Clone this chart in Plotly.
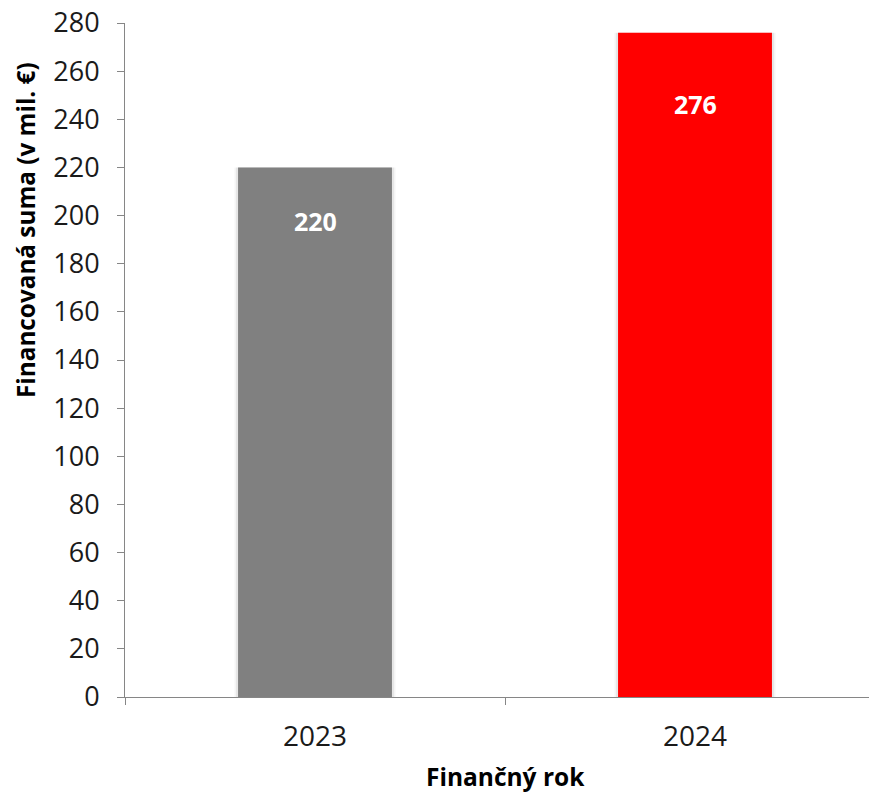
import plotly.graph_objects as go

years = ["2023", "2024"]
values = [220, 276]
colors = ["#808080", "#FF0000"]
label_shift = [-54, -71]
y_ticks = list(range(0, 281, 20))

FONT = "Open Sans, Noto Sans, sans-serif"

fig = go.Figure()
# subtle soft shadow behind bars
for w, a in [(0.424, 0.04), (0.416, 0.06)]:
    fig.add_trace(go.Bar(
        x=years, y=values, width=w,
        marker=dict(color=f"rgba(0,0,0,{a})", line=dict(width=0)),
        showlegend=False, hoverinfo="skip",
    ))
fig.add_trace(go.Bar(
    x=years, y=values, width=0.405,
    marker=dict(color=colors, line=dict(width=0)),
    showlegend=False, hoverinfo="skip",
))
for i, (v, s) in enumerate(zip(values, label_shift)):
    fig.add_annotation(x=i, xref="x", y=v, yref="y", text=f"<b>{v}</b>", showarrow=False,
                       yshift=s, font=dict(family=FONT, size=25, color="white"))

# axis titles
fig.add_annotation(x=0.5, xref="x", y=(689 - 768) / 674, yref="paper",
                   text="<b>Finančný rok</b>", showarrow=False,
                   font=dict(family=FONT, size=24.5, color="black"),
                   xanchor="center", yanchor="middle")
fig.add_annotation(x=(17 - 117) / 760, xref="paper", y=(689 - 222) / 674, yref="paper",
                   text="<b>Financovaná suma (v mil. €)</b>", textangle=-90, showarrow=False,
                   font=dict(family=FONT, size=24.3, color="black"),
                   xanchor="center", yanchor="middle")

fig.update_layout(
    width=877, height=792,
    margin=dict(l=117, r=0, t=15, b=103, autoexpand=False),
    plot_bgcolor="white", paper_bgcolor="white",
    barmode="overlay",
    xaxis=dict(type="category", range=[-0.5, 1.5], showgrid=False, automargin=False,
               showline=True, linecolor="#868686", linewidth=1,
               ticks="outside", tickson="boundaries", ticklen=7, tickcolor="#868686",
               ticklabelstandoff=14,
               tickfont=dict(family=FONT, size=28, color="#1a1a1a")),
    yaxis=dict(range=[0, 280.001], tickvals=y_ticks, showgrid=False, zeroline=False,
               automargin=False,
               showline=True, linecolor="#868686", linewidth=1,
               ticks="outside", ticklen=7, tickcolor="#868686",
               ticklabelstandoff=12, ticklabeloverflow="allow",
               tickfont=dict(family=FONT, size=27, color="#1a1a1a")),
)
fig.write_html("out.html")
